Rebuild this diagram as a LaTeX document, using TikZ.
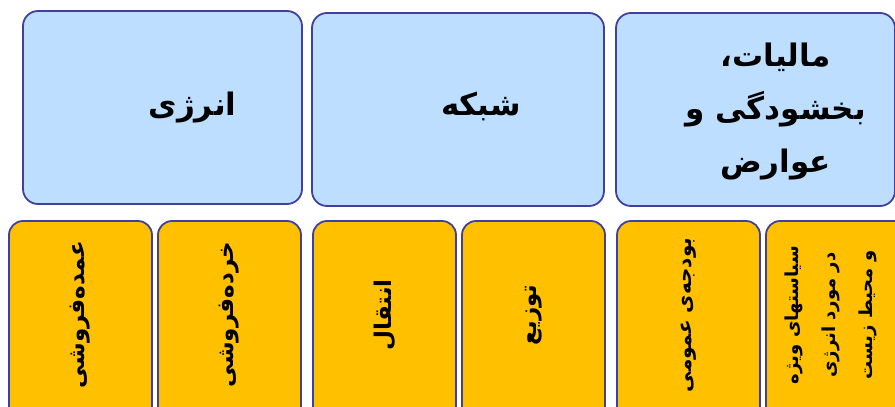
\documentclass[tikz,border=0pt]{standalone}
\usepackage{fontspec}
\newfontfamily\arabicfont[Script=Arabic]{DejaVu Sans}
\TeXXeTstate=1
\definecolor{edgeblue}{RGB}{64,64,160}
\definecolor{headblue}{RGB}{189,222,255}
\definecolor{leafgold}{RGB}{255,192,0}
\usetikzlibrary{positioning}

\begin{document}
\begin{tikzpicture}[
      x=1pt, y=-1pt,
      headbox/.style  = {draw=edgeblue, fill=headblue, line width=1.8pt,
                         rounded corners=15pt, minimum height=193pt,
                         inner sep=0pt, outer sep=0pt},
      leafbox/.style  = {draw=edgeblue, fill=leafgold, line width=1.8pt,
                         rounded corners=14pt, minimum width=143pt,
                         minimum height=200pt, inner sep=0pt, outer sep=0pt},
      headtext/.style = {align=center, font=\arabicfont\bfseries\fontsize{31}{53}\selectfont},
      leaftext/.style = {align=center, rotate=90,
                         font=\arabicfont\bfseries\fontsize{23}{37}\selectfont},
    ]
    \useasboundingbox (0,0) rectangle (895,407);
    \clip (0,0) rectangle (895,407);

    % top row
    \node[headbox, minimum width=279pt, anchor=north west] (energy) at (23,11) {};
    \node[headbox, minimum width=292pt, anchor=north west] (grid)   at (312,13) {};
    \node[headbox, minimum width=279pt, anchor=north west] (tax)    at (616,13) {};

    \node[headtext] (energyt) at ([xshift=30pt]energy.center) {\beginR انرژی\endR};
    \node[headtext] (gridt)   at ([xshift=23pt,yshift=3pt]grid.center) {\beginR شبکه\endR};
    \node[headtext] (taxt)    at ([xshift=20pt,yshift=-2pt]tax.center)
         {\beginR مالیات،\endR\\\beginR بخشودگی و\endR\\\beginR عوارض\endR};

    % bottom row
    \node[leafbox, anchor=north west] (wholesale) at (9,221) {};
    \node[leafbox, right=6pt of wholesale]  (retail)  {};
    \node[leafbox, right=12pt of retail]    (trans)   {};
    \node[leafbox, right=6pt of trans]      (distr)   {};
    \node[leafbox, right=12pt of distr]     (budget)  {};
    \node[leafbox, right=6pt of budget]     (policy)  {};

    \node[leaftext] (wholesalet) at ([yshift=6pt]wholesale.center) {\beginR عمده‌فروشی\endR};
    \node[leaftext] (retailt)    at ([yshift=6pt]retail.center)    {\beginR خرده‌فروشی\endR};
    \node[leaftext] (transt)     at ([yshift=6pt]trans.center)     {\beginR انتقال\endR};
    \node[leaftext] (distrt)     at ([yshift=6pt]distr.center)     {\beginR توزیع\endR};
    \node[leaftext, font=\arabicfont\bfseries\fontsize{20}{37}\selectfont] (budgett)
         at ([yshift=6pt]budget.center) {\beginR بودجه‌ی عمومی\endR};
    \node[leaftext, font=\arabicfont\bfseries\fontsize{18}{37}\selectfont] (policyt)
         at ([xshift=-7pt,yshift=6pt]policy.center)
         {\beginR سیاستهای ویژه\endR\\\beginR در مورد انرژی\endR\\\beginR و محیط زیست\endR};
  \end{tikzpicture}
\end{document}
